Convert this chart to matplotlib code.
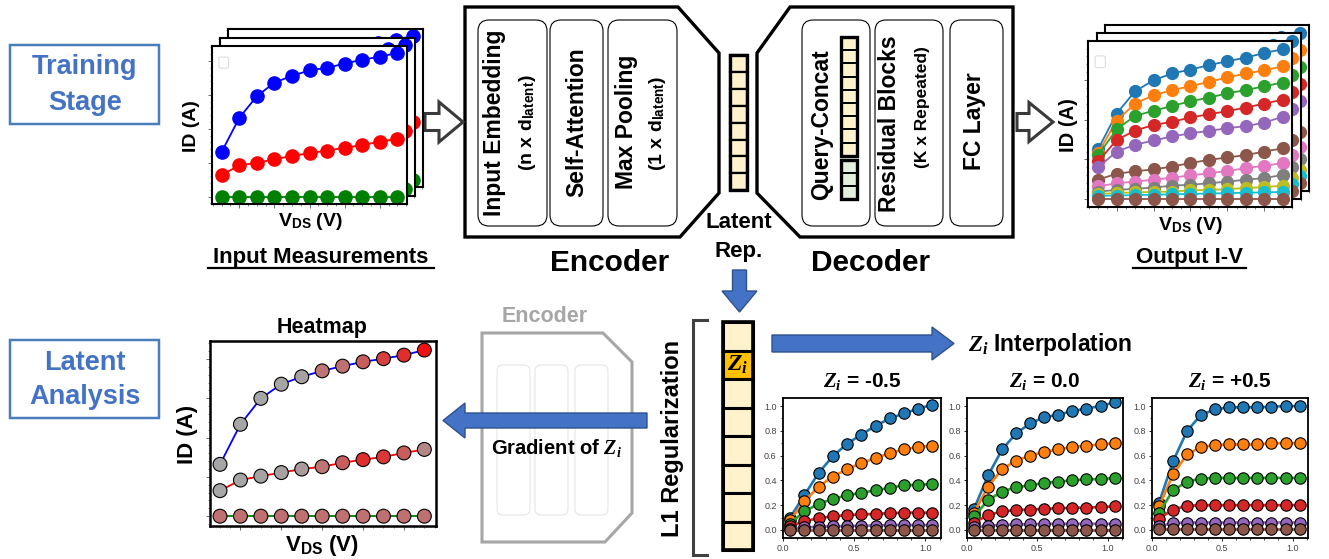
import matplotlib
matplotlib.use('Agg')
import matplotlib.pyplot as plt
from matplotlib.patches import Polygon, Rectangle, FancyBboxPatch
from matplotlib.ticker import MultipleLocator
from matplotlib.colors import LinearSegmentedColormap

plt.rcParams['font.family'] = ['Liberation Sans', 'DejaVu Sans']
plt.rcParams['mathtext.fontset'] = 'custom'
plt.rcParams['mathtext.rm'] = 'Liberation Sans:bold'
plt.rcParams['mathtext.bf'] = 'Liberation Sans:bold'
plt.rcParams['mathtext.it'] = 'Liberation Serif:bold:italic'

# ---------------- data ----------------
vds_steps = [1, 2, 3, 4, 5, 6, 7, 8, 9, 10, 11]

# input measurements (front panel)
in_blue = [0.33, 0.58, 0.74, 0.84, 0.89, 0.93, 0.95, 0.98, 1.01, 1.03, 1.06]
in_red = [0.16, 0.23, 0.25, 0.275, 0.30, 0.32, 0.34, 0.36, 0.38, 0.405, 0.425]
in_green = [0, 0, 0, 0, 0, 0, 0, 0, 0, 0, 0]

# output I-V family
out_colors = ['#1f77b4', '#ff7f0e', '#2ca02c', '#d62728', '#9467bd', '#8c564b',
              '#e377c2', '#7f7f7f', '#bcbd22', '#17becf', '#8c564b']
out_curves = [
    [1.26, 2.16, 2.72, 3.00, 3.17, 3.27, 3.38, 3.48, 3.57, 3.69, 3.78],
    [1.16, 1.98, 2.41, 2.62, 2.75, 2.85, 2.96, 3.07, 3.17, 3.25, 3.35],
    [1.11, 1.76, 2.10, 2.23, 2.35, 2.47, 2.56, 2.67, 2.75, 2.85, 2.94],
    [0.95, 1.49, 1.73, 1.87, 1.95, 2.06, 2.14, 2.22, 2.31, 2.41, 2.51],
    [0.80, 1.20, 1.37, 1.48, 1.58, 1.66, 1.72, 1.79, 1.84, 1.93, 2.08],
    [0.49, 0.64, 0.70, 0.75, 0.82, 0.91, 0.99, 1.05, 1.11, 1.20, 1.28],
    [0.32, 0.40, 0.44, 0.49, 0.54, 0.60, 0.65, 0.71, 0.78, 0.84, 0.91],
    [0.19, 0.23, 0.26, 0.29, 0.34, 0.36, 0.40, 0.44, 0.49, 0.53, 0.61],
    [0.13, 0.15, 0.17, 0.18, 0.19, 0.22, 0.23, 0.25, 0.28, 0.30, 0.34],
    [0.08, 0.09, 0.10, 0.11, 0.12, 0.13, 0.14, 0.15, 0.16, 0.17, 0.18],
    [0, 0, 0, 0, 0, 0, 0, 0, 0, 0, 0],
]

# heatmap panel
hm_blue = [1.32, 2.34, 3.00, 3.36, 3.55, 3.70, 3.82, 3.93, 4.01, 4.10, 4.23]
hm_red = [0.65, 0.92, 1.02, 1.11, 1.20, 1.26, 1.36, 1.44, 1.51, 1.61, 1.70]
hm_green = [0, 0, 0, 0, 0, 0, 0, 0, 0, 0, 0]
heat_blue = [0.0, 0.0, 0.0, 0.02, 0.05, 0.45, 0.5, 0.6, 0.75, 0.85, 1.0]
heat_red = [0.0, 0.02, 0.03, 0.05, 0.1, 0.45, 0.6, 0.85, 0.8, 0.6, 0.3]
heat_green = [0.5, 0.5, 0.5, 0.5, 0.5, 0.5, 0.5, 0.5, 0.5, 0.5, 0.5]

# Z_i interpolation panels
vds_norm = [0.05, 0.15, 0.25, 0.35, 0.45, 0.55, 0.65, 0.75, 0.85, 0.95, 1.05]
interp_titles = ['-0.5', '0.0', '+0.5']
interp_colors = ['#1f77b4', '#ff7f0e', '#2ca02c', '#d62728', '#9467bd', '#8c564b']
zi_neg = [
    [0.10, 0.28, 0.46, 0.595, 0.695, 0.77, 0.84, 0.90, 0.94, 0.98, 1.01],
    [0.08, 0.23, 0.35, 0.43, 0.49, 0.54, 0.58, 0.62, 0.65, 0.67, 0.68],
    [0.05, 0.15, 0.21, 0.25, 0.28, 0.30, 0.32, 0.34, 0.36, 0.365, 0.37],
    [0.03, 0.07, 0.095, 0.11, 0.12, 0.125, 0.13, 0.135, 0.14, 0.14, 0.14],
    [0.01, 0.02, 0.025, 0.03, 0.03, 0.035, 0.035, 0.04, 0.04, 0.04, 0.04],
    [0, 0, 0, 0, 0, 0, 0, 0, 0, 0, 0],
]
zi_zero = [
    [0.17, 0.44, 0.65, 0.78, 0.86, 0.91, 0.93, 0.96, 0.98, 1.00, 1.03],
    [0.14, 0.35, 0.49, 0.56, 0.60, 0.63, 0.65, 0.67, 0.68, 0.69, 0.70],
    [0.11, 0.24, 0.31, 0.345, 0.36, 0.38, 0.39, 0.40, 0.41, 0.41, 0.42],
    [0.06, 0.12, 0.15, 0.16, 0.165, 0.17, 0.175, 0.18, 0.18, 0.185, 0.19],
    [0.02, 0.035, 0.04, 0.045, 0.045, 0.05, 0.05, 0.05, 0.05, 0.05, 0.05],
    [0, 0, 0, 0, 0, 0, 0, 0, 0, 0, 0],
]
zi_pos = [
    [0.22, 0.555, 0.80, 0.93, 0.973, 0.99, 0.99, 0.99, 0.995, 1.0, 1.0],
    [0.19, 0.45, 0.61, 0.67, 0.685, 0.69, 0.69, 0.69, 0.70, 0.70, 0.70],
    [0.14, 0.32, 0.39, 0.415, 0.42, 0.42, 0.42, 0.42, 0.42, 0.42, 0.42],
    [0.09, 0.165, 0.195, 0.20, 0.20, 0.20, 0.20, 0.20, 0.20, 0.20, 0.20],
    [0.03, 0.055, 0.06, 0.06, 0.06, 0.06, 0.06, 0.06, 0.06, 0.06, 0.06],
    [0.01, 0.01, 0.01, 0.01, 0.01, 0.01, 0.01, 0.01, 0.01, 0.01, 0.01],
]

BLUE = '#4472C4'
BLUE_EDGE = '#2F528F'
CELL = '#FFF2CC'

W, H = 1329, 559
fig = plt.figure(figsize=(W / 100, H / 100), dpi=100)
base = fig.add_axes([0, 0, 1, 1])
base.set_xlim(0, W)
base.set_ylim(H, 0)
base.axis('off')


def px_axes(x0, y0, x1, y1):
    return fig.add_axes([x0 / W, 1 - y1 / H, (x1 - x0) / W, (y1 - y0) / H])


def rbox(x0, y0, x1, y1, r=10, **kw):
    base.add_patch(FancyBboxPatch((x0, y0), x1 - x0, y1 - y0,
                                  boxstyle=f"round,pad=0,rounding_size={r}", **kw))


def harrow(tail, base_x, tip, yc, shaft, head, **kw):
    pts = [(tail, yc - shaft / 2), (base_x, yc - shaft / 2), (base_x, yc - head / 2), (tip, yc),
           (base_x, yc + head / 2), (base_x, yc + shaft / 2), (tail, yc + shaft / 2)]
    base.add_patch(Polygon(pts, closed=True, **kw))


def varrow(xc, tail, base_y, tip, shaft, head, **kw):
    pts = [(xc - shaft / 2, tail), (xc - shaft / 2, base_y), (xc - head / 2, base_y), (xc, tip),
           (xc + head / 2, base_y), (xc + shaft / 2, base_y), (xc + shaft / 2, tail)]
    base.add_patch(Polygon(pts, closed=True, **kw))


def column(x0, x1, y0, n, h, fills, lw_out=2.2, lw_in=1.5):
    for k in range(n):
        base.add_patch(Rectangle((x0, y0 + k * h), x1 - x0, h, facecolor=fills[k],
                                 edgecolor='black', lw=lw_in))
    base.add_patch(Rectangle((x0, y0), x1 - x0, n * h, fill=False, edgecolor='black', lw=lw_out))


def txt(x, y, s, size, **kw):
    kw.setdefault('ha', 'center')
    kw.setdefault('va', 'center')
    kw.setdefault('fontweight', 'bold')
    base.text(x, y, s, fontsize=size, **kw)


def iv_style(ax, xlim, ylim, ymaj, ymin, lw=1.5):
    ax.set_xlim(*xlim)
    ax.set_ylim(*ylim)
    ax.xaxis.set_major_locator(MultipleLocator(2))
    ax.xaxis.set_minor_locator(MultipleLocator(0.5))
    ax.yaxis.set_major_locator(MultipleLocator(ymaj))
    ax.yaxis.set_minor_locator(MultipleLocator(ymin))
    ax.tick_params(which='major', length=3, width=0.6, color='#555555',
                   labelleft=False, labelbottom=False)
    ax.tick_params(which='minor', length=1.5, width=0.5, color='#555555')
    for sp in ax.spines.values():
        sp.set_linewidth(lw)


# ---------------- stage labels ----------------
rbox(10, 45, 159, 124, r=0, facecolor='white', edgecolor='#4A7EBB', lw=1.8)
txt(85, 67, 'Training', 19.5, color=BLUE)
txt(85, 103, 'Stage', 19.5, color=BLUE)
rbox(10, 340, 159, 418, r=0, facecolor='white', edgecolor='#4A7EBB', lw=1.8)
txt(85, 363, 'Latent', 19.5, color=BLUE)
txt(85, 397, 'Analysis', 19.5, color=BLUE)

# ---------------- encoder ----------------
enc = [(465, 7), (678, 7), (719, 53), (719, 193), (680, 237), (465, 237)]
base.add_patch(Polygon(enc, closed=True, facecolor='white', edgecolor='black', lw=2.4))
for x0, x1 in [(478, 547), (550, 603), (608, 677)]:
    rbox(x0, 20, x1, 226, r=11, facecolor='white', edgecolor='black', lw=0.8)
txt(495, 123, 'Input Embedding', 16.5, rotation=90)
txt(528, 123, r'(n x d$_{\mathrm{latent}}$)', 14, rotation=90)
txt(577, 122, 'Self-Attention', 16.5, rotation=90)
txt(626, 122, 'Max Pooling', 16.5, rotation=90)
txt(657, 123, r'(1 x d$_{\mathrm{latent}}$)', 14, rotation=90)
txt(610, 263, 'Encoder', 21.5)

# latent rep column
column(730, 747, 55, 8, 16.9, [CELL] * 8, lw_out=2.4, lw_in=1.6)
txt(739, 223, 'Latent', 16)
txt(739, 251, 'Rep.', 16)

# ---------------- decoder ----------------
dec = [(790, 7), (1013, 7), (1013, 237), (800, 237), (757, 193), (757, 53)]
base.add_patch(Polygon(dec, closed=True, facecolor='white', edgecolor='black', lw=2.4))
for x0, x1 in [(802, 870), (875, 943), (950, 1003)]:
    rbox(x0, 20, x1, 226, r=11, facecolor='white', edgecolor='black', lw=0.8)
txt(822, 125, 'Query-Concat', 16.5, rotation=90)
column(841, 857, 37, 9, 13.2, [CELL] * 9, lw_out=2.4, lw_in=1.4)
column(841, 857, 160, 3, 13.0, ['#E2EFDA'] * 3, lw_out=2.4, lw_in=1.4)
txt(889, 124, 'Residual Blocks', 16.5, rotation=90)
txt(923, 107, '(K x Repeated)', 12.5, rotation=90)
txt(975, 121, 'FC Layer', 16.5, rotation=90)
txt(871, 263, 'Decoder', 21.5)

# hollow arrows
harrow(425, 439, 463, 122, 17, 40, facecolor='white', edgecolor='#3A3A3A', lw=2.2)
harrow(1017, 1029, 1053, 122, 17, 39, facecolor='white', edgecolor='#3A3A3A', lw=2.2)

# ---------------- input measurements ----------------
in_xlim = (0.45, 11.55)
in_ylim = (-0.054, 1.11)
for dx, dy in [(16, -17), (8, -8), (0, 0)]:
    ax = px_axes(212 + dx, 46 + dy, 407 + dx, 204 + dy)
    ax.plot(vds_steps, in_blue, 'o-', color='blue', ms=9.5, lw=1.3)
    ax.plot(vds_steps, in_red, 'o-', color='red', ms=9.5, lw=1.3)
    ax.plot(vds_steps, in_green, 'o-', color='green', ms=9.5, lw=1.3)
    iv_style(ax, in_xlim, in_ylim, 0.25, 0.05)
    ax.add_patch(FancyBboxPatch((0.035, 0.86), 0.05, 0.07, transform=ax.transAxes,
                                boxstyle='round,pad=0,rounding_size=0.01',
                                facecolor='white', edgecolor='#DDDDDD', lw=0.8))
txt(192, 126, 'ID (A)', 14, rotation=90)
txt(310, 222, r'V$_{\mathrm{DS}}$ (V)', 14)
txt(321, 257, 'Input Measurements', 16)
base.plot([208, 434], [268, 268], color='black', lw=1.6)

# ---------------- output I-V ----------------
for dx, dy in [(17, -16), (9, -8), (0, 0)]:
    ax = px_axes(1088 + dx, 41 + dy, 1292 + dx, 207 + dy)
    for c, vals in zip(out_colors, out_curves):
        ax.plot(vds_steps, vals, 'o-', color=c, ms=8.5, lw=1.3)
    iv_style(ax, (0.45, 11.5), (-0.2, 3.99), 1, 0.2)
    ax.add_patch(FancyBboxPatch((0.035, 0.84), 0.05, 0.07, transform=ax.transAxes,
                                boxstyle='round,pad=0,rounding_size=0.01',
                                facecolor='white', edgecolor='#DDDDDD', lw=0.8))
txt(1068, 125, 'ID (A)', 14.5, rotation=90)
txt(1190, 225, r'V$_{\mathrm{DS}}$ (V)', 14)
txt(1189, 257, 'Output I-V', 16)
base.plot([1133, 1246], [268, 268], color='black', lw=1.6)

# ---------------- latent analysis row ----------------
varrow(739.5, 270, 291, 312, 14, 35, facecolor=BLUE, edgecolor=BLUE_EDGE, lw=1)

# heatmap
heat_cmap = LinearSegmentedColormap.from_list('heat', ['#A6A6A6', '#BF7070', '#EE1111'])
ax = px_axes(210, 341, 436, 526)
for vals, heat, lc in [(hm_blue, heat_blue, 'blue'), (hm_red, heat_red, 'red'),
                       (hm_green, heat_green, 'green')]:
    ax.plot(vds_steps, vals, '-', color=lc, lw=1.3, zorder=2)
    ax.scatter(vds_steps, vals, c=heat, cmap=heat_cmap, vmin=0, vmax=1, s=100,
               edgecolors='black', linewidths=0.8, zorder=3)
iv_style(ax, (0.51, 11.57), (-0.25, 4.46), 1, 0.2, lw=1.8)
txt(322, 328, 'Heatmap', 15.5)
txt(187, 434, 'ID (A)', 16, rotation=90)
txt(322, 545, r'V$_{\mathrm{DS}}$ (V)', 16)

# faded encoder icon
ghost = [(482, 333), (603, 333), (632, 362), (632, 513), (605, 542), (482, 542)]
base.add_patch(Polygon(ghost, closed=True, facecolor='white', edgecolor='#A6A6A6', lw=2.2))
for x0, x1 in [(497, 530), (535, 568), (575, 608)]:
    rbox(x0, 365, x1, 515, r=6, facecolor='none', edgecolor='#E6E6E6', lw=0.8)
txt(545, 317, 'Encoder', 15.5, color='#A6A6A6')
harrow(647, 465, 443, 420.5, 15, 35, facecolor=BLUE, edgecolor=BLUE_EDGE, lw=1)
txt(557, 448, r'Gradient of $Z_i$', 14.5)

# L1 regularization column
txt(672, 438, 'L1 Regularization', 17, rotation=90)
base.plot([707, 693, 693, 707], [320, 320, 555, 555], color='#404040', lw=2.2,
          solid_joinstyle='miter')
col_fill = [CELL, '#FFC000', CELL, CELL, CELL, CELL, CELL, CELL]
column(723, 753, 322, 8, 28.5, col_fill, lw_out=2.6, lw_in=2.2)
txt(738, 364, r'$Z_i$', 17)

# interpolation
harrow(772, 932, 954, 343.5, 17, 33, facecolor=BLUE, edgecolor=BLUE_EDGE, lw=1)
txt(968, 345, r'$Z_i$ Interpolation', 16.5, ha='left')

for (x0, x1), title, curves in zip([(783, 941), (967, 1123), (1152, 1308)],
                                   interp_titles, [zi_neg, zi_zero, zi_pos]):
    ax = px_axes(x0, 398, x1, 538)
    for c, vals in zip(interp_colors, curves):
        ax.plot(vds_norm, vals, 'o-', color=c, ms=8.2, lw=1.9, mec='black', mew=0.8)
    ax.set_xlim(0, 1.11)
    ax.set_ylim(-0.065, 1.065)
    ax.xaxis.set_major_locator(MultipleLocator(0.5))
    ax.xaxis.set_minor_locator(MultipleLocator(0.1))
    ax.yaxis.set_major_locator(MultipleLocator(0.2))
    ax.yaxis.set_minor_locator(MultipleLocator(0.1))
    ax.tick_params(which='major', length=2.5, width=0.6, labelsize=6.5,
                   labelcolor='#444444', pad=2)
    ax.tick_params(which='minor', length=1.5, width=0.5)
    for sp in ax.spines.values():
        sp.set_linewidth(1.3)
    base.text((x0 + x1) / 2, 382, r'$Z_i$ = ' + title, fontsize=15, fontweight='bold',
              ha='center', va='center')

fig.savefig('out.png', dpi=100)
